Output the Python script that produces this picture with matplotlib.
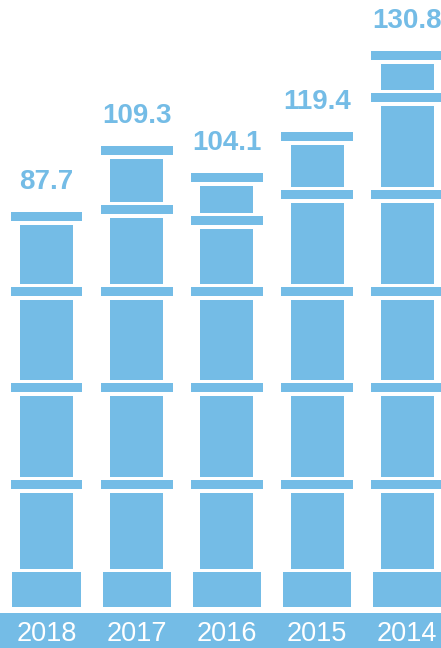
import matplotlib
matplotlib.use("Agg")
import matplotlib.pyplot as plt

# ---- data ----
years = ["2018", "2017", "2016", "2015", "2014"]
values = [87.7, 109.3, 104.1, 119.4, 130.8]
# pictogram tier (shaft segment) heights, bottom to top
tiers_2018 = [76, 81, 80, 59]
tiers_2017 = [76, 81, 80, 66, 43]
tiers_2016 = [76, 81, 80, 55, 27]
tiers_2015 = [76, 81, 80, 81, 42]
tiers_2014 = [76, 81, 80, 81, 81, 26]
column_tiers = [tiers_2018, tiers_2017, tiers_2016, tiers_2015, tiers_2014]

# ---- style ----
BLUE = "#74bce6"
W, H = 441, 648
STRIP_TOP = 35
BASE_BOTTOM, BASE_TOP = 41, 76
GAP = 3.5
BAND_H = 9
SHAFT_W = 0.588
BAND_W = 0.798
BASE_W = 0.754
LABEL_OFFSET = 23

fig = plt.figure(figsize=(W / 100, H / 100), dpi=100)
ax = fig.add_axes([0, 0, 1, 1])
ax.set_xlim(-0.5155, 4.3736)
ax.set_ylim(0, H)
ax.axis("off")

# bottom strip
ax.axhspan(0, STRIP_TOP, color=BLUE, lw=0)

for i, (year, val, tiers) in enumerate(zip(years, values, column_tiers)):
    # base block
    ax.bar(i, BASE_TOP - BASE_BOTTOM, width=BASE_W, bottom=BASE_BOTTOM,
           color=BLUE, lw=0)
    y = BASE_TOP
    for h in tiers:
        sb = y + GAP
        ax.bar(i, h, width=SHAFT_W, bottom=sb, color=BLUE, lw=0)
        bb = sb + h + GAP
        ax.bar(i, BAND_H, width=BAND_W, bottom=bb, color=BLUE, lw=0)
        y = bb + BAND_H
    # value label
    ax.text(i, y + LABEL_OFFSET, f"{val:.1f}", ha="center", va="baseline",
            color=BLUE, fontsize=20, fontweight="bold",
            family="Liberation Sans")
    # year label
    ax.text(i, 7, year, ha="center", va="baseline", color="white",
            fontsize=19.5, family="Liberation Sans")

fig.savefig("out.png", dpi=100)
